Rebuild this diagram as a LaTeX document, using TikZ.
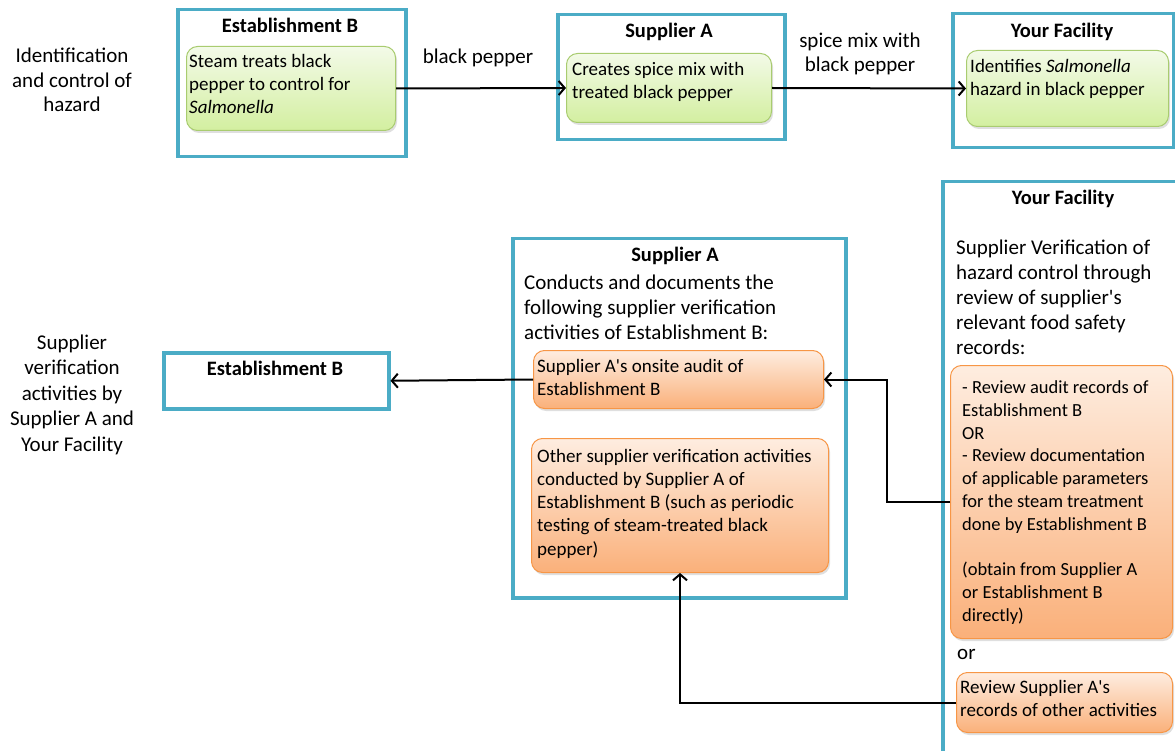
\documentclass[tikz,border=0pt]{standalone}
\usepackage{fontspec}
\setmainfont{Carlito}[Ligatures=TeXOff]
\usetikzlibrary{arrows.meta,shadows}
\definecolor{teal}{HTML}{4BACC6}
\definecolor{gborder}{HTML}{A9CC70}
\definecolor{gtop}{HTML}{F3FAE8}
\definecolor{gbot}{HTML}{D3EFA0}
\definecolor{oborder}{HTML}{F79646}
\definecolor{otop}{HTML}{FEEDE0}
\definecolor{obot}{HTML}{FAB07A}
\tikzset{
  outerbox/.style={draw=teal, line width=3.5pt, fill=white, inner sep=0pt, anchor=north west},
  softbox/.style={rounded corners=11pt, line width=1pt, inner sep=0pt, anchor=north west,
     drop shadow={opacity=0.25, shadow xshift=1.5pt, shadow yshift=-2.5pt}},
  greenbox/.style={softbox, draw=gborder, top color=gtop, bottom color=gbot},
  orangebox/.style={softbox, draw=oborder, top color=otop, bottom color=obot},
  ttl/.style={font=\fontsize{20.5}{24}\selectfont\bfseries, inner sep=0pt},
  small/.style={font=\fontsize{19}{23}\selectfont, align=left, inner sep=0pt, anchor=north west},
  otext/.style={font=\fontsize{19}{23.2}\selectfont, align=left, inner sep=0pt, anchor=north west},
  otextb/.style={font=\fontsize{18.5}{22.8}\selectfont, align=left, inner sep=0pt, anchor=north west},
  body/.style={font=\fontsize{21}{25}\selectfont, align=left, inner sep=0pt, anchor=north west},
  side/.style={font=\fontsize{21}{25.5}\selectfont, align=center, inner sep=0pt, anchor=north},
  lbl/.style={font=\fontsize{21}{24}\selectfont, align=center, inner sep=0pt},
  arr/.style={line width=2pt, -{Straight Barb[length=6pt, width=14pt, line width=2pt]}},
}
\begin{document}
\begin{tikzpicture}[x=1pt, y=-1pt]
\useasboundingbox (0,0) rectangle (1175,751);
\clip (0,0) rectangle (1175,751);
\fill[white] (0,0) rectangle (1175,751);

% left labels
\node[side, font=\fontsize{21}{24.5}\selectfont] (lab1) at (72,48) {Identification\\and control of\\hazard};
\node[side] (lab2) at (72,334.5) {Supplier\\verification\\activities by\\Supplier A and\\Your Facility};

% ---- top row ----
\node[outerbox, minimum width=228pt, minimum height=147pt] (EB1) at (176,8) {};
\node[ttl] (EB1t) at (290,25) {Establishment B};
\node[greenbox, minimum width=209pt, minimum height=84pt] (gEB) at (186,46) {};
\node[small] (gEBt) at (189,54.5) {Steam treats black\\pepper to control for\\\textit{Salmonella}};

\node[outerbox, minimum width=227pt, minimum height=125pt] (SA1) at (556,13) {};
\node[ttl] (SA1t) at (669,32) {Supplier A};
\node[greenbox, minimum width=205pt, minimum height=69pt] (gSA) at (566,53) {};
\node[small] (gSAt) at (572,62) {Creates spice mix with\\treated black pepper};

\node[outerbox, minimum width=221pt, minimum height=134pt] (YF1) at (951,12) {};
\node[ttl] (YF1t) at (1062,32) {Your Facility};
\node[greenbox, minimum width=202pt, minimum height=76pt] (gYF) at (966,50) {};
\node[small] (gYFt) at (970,59.5) {Identifies \textit{Salmonella}\\hazard in black pepper};

\draw[arr] (gEB.east) -- (gSA.west);
\node[lbl] (lbl1) at (478,58) {black pepper};
\draw[arr] (gSA.east) -- (gYF.west);
\node[lbl] (lbl2) at (860,54) {spice mix with\\black pepper};

% ---- bottom ----
\node[outerbox, minimum width=225pt, minimum height=56pt] (EB2) at (162,351) {};
\node[ttl] (EB2t) at (275,368) {Establishment B};

\node[outerbox, minimum width=333pt, minimum height=359pt] (SA2) at (511,237) {};
\node[ttl] (SA2t) at (675,256) {Supplier A};
\node[body] (SA2b) at (524,275) {Conducts and documents the\\following supplier verification\\activities of Establishment B:};
\node[orangebox, minimum width=290pt, minimum height=58pt] (o1) at (533,350) {};
\node[otext] (o1t) at (537,359) {Supplier A's onsite audit of\\Establishment B};
\node[orangebox, minimum width=297pt, minimum height=134pt] (o2) at (531,438) {};
\node[otext] (o2t) at (537,449) {Other supplier verification activities\\conducted by Supplier A of\\Establishment B (such as periodic\\testing of steam-treated black\\pepper)};

\node[outerbox, minimum width=250pt, minimum height=590pt] (YF2) at (941,180) {};
\node[ttl] (YF2t) at (1063,199) {Your Facility};
\node[body] (YF2b) at (956,240) {Supplier Verification of\\hazard control through\\review of supplier's\\relevant food safety\\records:};
\node[orangebox, minimum width=222pt, minimum height=273pt] (o3) at (950,365) {};
\node[otextb] (o3t) at (962,380.5) {- Review audit records of\\Establishment B\\OR\\- Review documentation\\of applicable parameters\\for the steam treatment\\done by Establishment B\\[22.8pt](obtain from Supplier A\\or Establishment B\\directly)};
\node[body, anchor=base west] (ortxt) at (957,659) {or};
\node[orangebox, minimum width=216pt, minimum height=60pt] (o4) at (956,672) {};
\node[otext] (o4t) at (960,680) {Review Supplier A's\\records of other activities};

% connectors
\draw[arr] (o1.west) -- (EB2.east);
\draw[arr] (o3.west) -- ++(-63,0) |- (o1.east);
\draw[arr] (o4.west) -| (o2.south);
\end{tikzpicture}
\end{document}
